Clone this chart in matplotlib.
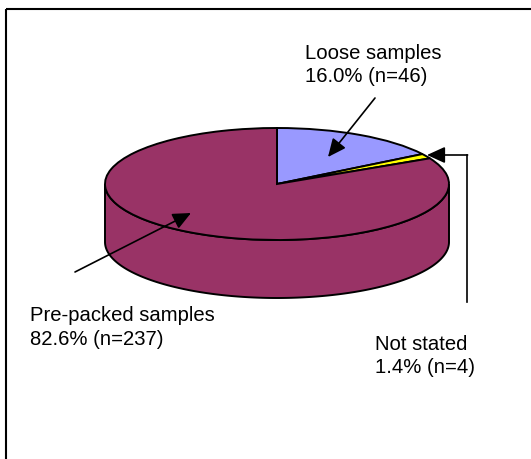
import matplotlib.pyplot as plt
import numpy as np
from matplotlib.transforms import Affine2D
from matplotlib.patches import Polygon, Rectangle

# Donnees du graphique
categories = ["Loose samples", "Not stated", "Pre-packed samples"]
effectifs = [46, 4, 237]
pourcentages = [16.0, 1.4, 82.6]
couleurs = ["#9999FF", "#FFFF00", "#993366"]

plt.rcParams['font.family'] = ['Liberation Sans', 'DejaVu Sans']

fig = plt.figure(figsize=(5.31, 4.59), dpi=100)
ax = fig.add_axes([0, 0, 1, 1])

# geometrie du camembert "3D" (coordonnees image)
cx, cy = 277, 184
a, b = 172, 56
epaisseur = 58

# cote visible (moitie avant)
t = np.linspace(np.pi, 2 * np.pi, 200)
haut = np.column_stack([cx + a * np.cos(t), cy - b * np.sin(t)])
bas = haut[::-1] + [0, epaisseur]
cote = Polygon(np.vstack([haut, bas]), closed=True, facecolor=couleurs[2],
               edgecolor="black", linewidth=1.4, zorder=1)
ax.add_patch(cote)

# dessus du camembert
wedges, _ = ax.pie(effectifs, colors=couleurs, startangle=90, counterclock=False,
                   wedgeprops=dict(edgecolor="black", linewidth=1.4))
tr = Affine2D().scale(a, -b).translate(cx, cy) + ax.transData
for w in wedges:
    w.set_transform(tr)
    w.set_zorder(2)

ax.set_aspect('auto')
ax.set_xlim(0, 531)
ax.set_ylim(459, 0)
ax.axis('off')

# cadre
ax.add_patch(Rectangle((6, 9), 540, 470, fill=False, edgecolor="black",
                       linewidth=1.5, zorder=5))

fs = 14.6
fleche = dict(arrowstyle="-|>,head_length=1.1,head_width=0.5", color="black",
              linewidth=1.2, shrinkA=0, shrinkB=0)

def etiquette(x, y1, y2, nom, pct, n):
    ax.text(x, y1, nom, fontsize=fs, va="baseline", ha="left")
    ax.text(x, y2, f"{pct:.1f}% (n={n})", fontsize=fs, va="baseline", ha="left")

# Loose samples
etiquette(305, 59, 82, categories[0], pourcentages[0], effectifs[0])
ax.annotate("", xy=(328, 157), xytext=(375, 98), arrowprops=fleche, zorder=6)

# Pre-packed samples
etiquette(30, 321, 345, categories[2], pourcentages[2], effectifs[2])
ax.annotate("", xy=(191, 213), xytext=(75, 272), arrowprops=fleche, zorder=6)

# Not stated
etiquette(375, 350, 373, categories[1], pourcentages[1], effectifs[1])
ax.plot([467, 467], [302, 155], color="black", linewidth=1.2, zorder=6)
ax.annotate("", xy=(427, 155), xytext=(467.6, 155), arrowprops=fleche, zorder=6)

fig.savefig("out.png", dpi=100)
